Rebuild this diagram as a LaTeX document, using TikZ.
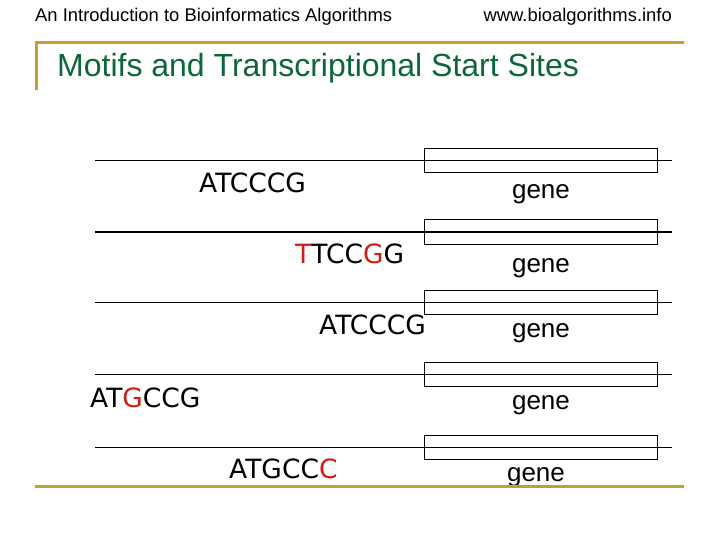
\documentclass[tikz,border=0pt]{standalone}
\usepackage{fontspec}
\setmainfont{Liberation Sans}
\newfontfamily\motiffont{DejaVu Sans}
\usetikzlibrary{positioning}
\definecolor{framegold}{RGB}{196,160,48}
\definecolor{titlegreen}{RGB}{12,102,56}
\definecolor{motifred}{RGB}{205,30,20}
\tikzstyle{dna}       = [line width=1pt]
\tikzstyle{genebox}   = [draw, line width=1pt, minimum width=233pt, minimum height=24pt, inner sep=0pt]
\tikzstyle{genelabel} = [anchor=base, inner sep=0pt, font=\fontsize{26}{30}\selectfont]
\tikzstyle{motif}     = [anchor=base west, inner sep=0pt, font=\motiffont\fontsize{26.5}{30}\selectfont]
\tikzstyle{frame}     = [framegold, line width=3pt]
\tikzstyle{header}    = [inner sep=0pt, font=\fontsize{18.4}{20}\selectfont]

\begin{document}
\begin{tikzpicture}[x=1pt,y=-1pt]
		\useasboundingbox (0,0) rectangle (720,540);

		\node[header, anchor=base west] (course) at (35,21.5) {An Introduction to Bioinformatics Algorithms};
		\node[header, anchor=base east] (site) at (672,21.5) {www.bioalgorithms.info};

		\draw[frame] (36,90) -- (36,43) -- (684,43);
		\node[anchor=base west, inner sep=0pt, text=titlegreen, font=\fontsize{32}{36}\selectfont] (title) at (57,77) {Motifs and Transcriptional Start Sites};

		% DNA strands with gene boxes
		\foreach \r/\y/\gx/\gy in {1/161/541/199, 2/232/541/272, 3/302.5/541/337, 4/374/541/409, 5/447/536/481}{
			\draw[dna] (95,\y) -- (672,\y);
			\node[genebox] (gene\r) at (540.5,\y) {};
			\node[genelabel] (label\r) at (\gx,\gy) {gene};
		}

		% motifs
		\node[motif] (motifA) at (199,193) {ATCCCG};
		\node[motif] (motifB) at (295,263) {\textcolor{motifred}{T}TCC\textcolor{motifred}{G}G};
		\node[motif] (motifC) at (319,334) {ATCCCG};
		\node[motif] (motifD) at (90,407) {AT\textcolor{motifred}{G}CCG};
		\node[motif] (motifE) at (229,478) {ATGCC\textcolor{motifred}{C}};

		\draw[frame] (35,486) -- (684,486);
	\end{tikzpicture}
\end{document}
